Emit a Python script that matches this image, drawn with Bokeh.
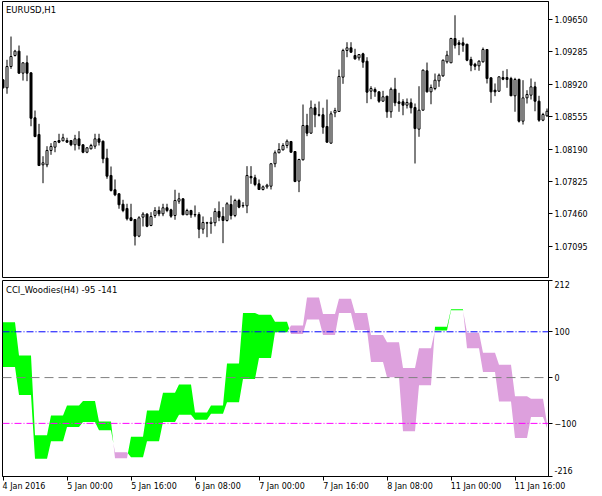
from bokeh.plotting import figure
from bokeh.models import (Range1d, FixedTicker, PrintfTickFormatter, Span, Label,
                          ColumnDataSource, LinearAxis)
from bokeh.layouts import column
from bokeh.embed import file_html
from bokeh.resources import INLINE

# ---------------- data (EURUSD H1, 4 Jan 2016 08:00 ... ) ----------------
bar_open = [1.08970, 1.08880, 1.09120, 1.09244, 1.09293, 1.09045, 1.09162, 1.09049, 1.08542, 1.08354,
            1.08012, 1.08012, 1.08174, 1.08211, 1.08286, 1.08283, 1.08286, 1.08286, 1.08238, 1.08305,
            1.08238, 1.08154, 1.08193, 1.08222, 1.08305, 1.08278, 1.08087, 1.07892, 1.07731, 1.07686,
            1.07568, 1.07520, 1.07415, 1.07396, 1.07208, 1.07422, 1.07456, 1.07328, 1.07441, 1.07497,
            1.07460, 1.07528, 1.07505, 1.07441, 1.07602, 1.07629, 1.07449, 1.07497, 1.07452, 1.07452,
            1.07287, 1.07359, 1.07351, 1.07359, 1.07486, 1.07430, 1.07385, 1.07565, 1.07441, 1.07610,
            1.07554, 1.07550, 1.07881, 1.07866, 1.07798, 1.07734, 1.07764, 1.07771, 1.08024, 1.08148,
            1.08181, 1.08230, 1.08275, 1.08162, 1.07828, 1.08069, 1.08455, 1.08369, 1.08655, 1.08576,
            1.08576, 1.08444, 1.08256, 1.08598, 1.08613, 1.09000, 1.09301, 1.09331, 1.09244, 1.09218,
            1.09263, 1.09180, 1.08842, 1.08861, 1.08835, 1.08729, 1.08786, 1.08610, 1.08864, 1.08722,
            1.08722, 1.08684, 1.08711, 1.08658, 1.08414, 1.08628, 1.09072, 1.08835, 1.08872, 1.08959,
            1.09015, 1.09173, 1.09162, 1.09436, 1.09387, 1.09387, 1.09372, 1.09199, 1.09146, 1.09128,
            1.09173, 1.09312, 1.08993, 1.08853, 1.08842, 1.08996, 1.08996, 1.08985, 1.08790, 1.08974,
            1.08504, 1.08767, 1.08797, 1.08891, 1.08729, 1.08515, 1.08565]
bar_high = [1.08979, 1.09196, 1.09458, 1.09308, 1.09357, 1.09165, 1.09244, 1.09053, 1.08624, 1.08474,
            1.08109, 1.08222, 1.08256, 1.08281, 1.08362, 1.08362, 1.08317, 1.08292, 1.08350, 1.08391,
            1.08241, 1.08211, 1.08249, 1.08362, 1.08362, 1.08286, 1.08193, 1.07993, 1.07847, 1.07689,
            1.07618, 1.07573, 1.07573, 1.07396, 1.07433, 1.07478, 1.07467, 1.07478, 1.07535, 1.07542,
            1.07573, 1.07573, 1.07517, 1.07731, 1.07697, 1.07633, 1.07517, 1.07505, 1.07554, 1.07478,
            1.07430, 1.07370, 1.07422, 1.07523, 1.07599, 1.07535, 1.07591, 1.07666, 1.07629, 1.07629,
            1.07591, 1.07997, 1.07997, 1.07900, 1.07847, 1.07779, 1.07798, 1.08033, 1.08174, 1.08256,
            1.08256, 1.08298, 1.08281, 1.08166, 1.08080, 1.08692, 1.08587, 1.08737, 1.08700, 1.08726,
            1.08655, 1.08748, 1.08616, 1.08655, 1.09086, 1.09320, 1.09394, 1.09394, 1.09320, 1.09259,
            1.09275, 1.09225, 1.08898, 1.08884, 1.08838, 1.08846, 1.08788, 1.08884, 1.08993, 1.08824,
            1.08752, 1.08760, 1.08760, 1.08703, 1.08898, 1.09086, 1.09165, 1.08917, 1.09041, 1.09041,
            1.09199, 1.09297, 1.09444, 1.09698, 1.09417, 1.09447, 1.09374, 1.09230, 1.09162, 1.09191,
            1.09334, 1.09315, 1.08996, 1.08929, 1.09008, 1.09072, 1.09090, 1.09004, 1.08993, 1.08985,
            1.08966, 1.08853, 1.08985, 1.08948, 1.08790, 1.08598, 1.08647]
bar_low = [1.08872, 1.08813, 1.09094, 1.09233, 1.09041, 1.08962, 1.08955, 1.08447, 1.08323, 1.07999,
           1.07805, 1.07985, 1.08125, 1.08154, 1.08256, 1.08278, 1.08264, 1.08222, 1.08174, 1.08185,
           1.08143, 1.08143, 1.08185, 1.08193, 1.08230, 1.08030, 1.07855, 1.07711, 1.07659, 1.07517,
           1.07478, 1.07385, 1.07377, 1.07103, 1.07196, 1.07317, 1.07309, 1.07320, 1.07415, 1.07433,
           1.07433, 1.07478, 1.07415, 1.07393, 1.07573, 1.07445, 1.07447, 1.07415, 1.07422, 1.07185,
           1.07235, 1.07196, 1.07235, 1.07320, 1.07377, 1.07129, 1.07373, 1.07396, 1.07422, 1.07523,
           1.07528, 1.07467, 1.07798, 1.07771, 1.07728, 1.07723, 1.07742, 1.07734, 1.07985, 1.08143,
           1.08174, 1.08199, 1.08151, 1.07816, 1.07704, 1.08061, 1.08335, 1.08362, 1.08436, 1.08557,
           1.08362, 1.08264, 1.08252, 1.08549, 1.08609, 1.08925, 1.09225, 1.09278, 1.09196, 1.09188,
           1.09106, 1.08707, 1.08752, 1.08779, 1.08711, 1.08726, 1.08542, 1.08542, 1.08673, 1.08610,
           1.08571, 1.08647, 1.08591, 1.08027, 1.08328, 1.08624, 1.08827, 1.08695, 1.08853, 1.08891,
           1.09004, 1.09154, 1.09160, 1.09323, 1.09248, 1.09286, 1.09180, 1.09067, 1.09079, 1.09072,
           1.09165, 1.08929, 1.08711, 1.08786, 1.08835, 1.08966, 1.08880, 1.08788, 1.08610, 1.08489,
           1.08466, 1.08703, 1.08748, 1.08616, 1.08497, 1.08504, 1.08553]
bar_close = [1.08880, 1.09120, 1.09233, 1.09293, 1.09045, 1.09162, 1.09045, 1.08537, 1.08331, 1.08004,
             1.08035, 1.08174, 1.08219, 1.08275, 1.08267, 1.08317, 1.08267, 1.08238, 1.08305, 1.08230,
             1.08154, 1.08204, 1.08230, 1.08305, 1.08267, 1.08080, 1.07884, 1.07723, 1.07674, 1.07562,
             1.07497, 1.07404, 1.07385, 1.07208, 1.07415, 1.07456, 1.07320, 1.07430, 1.07497, 1.07460,
             1.07528, 1.07497, 1.07433, 1.07610, 1.07629, 1.07449, 1.07497, 1.07449, 1.07447, 1.07287,
             1.07362, 1.07355, 1.07365, 1.07486, 1.07422, 1.07385, 1.07573, 1.07441, 1.07610, 1.07535,
             1.07550, 1.07892, 1.07866, 1.07790, 1.07734, 1.07764, 1.07782, 1.08024, 1.08148, 1.08185,
             1.08230, 1.08278, 1.08154, 1.07824, 1.08072, 1.08455, 1.08369, 1.08655, 1.08576, 1.08572,
             1.08436, 1.08267, 1.08587, 1.08624, 1.09008, 1.09301, 1.09331, 1.09281, 1.09207, 1.09255,
             1.09169, 1.08831, 1.08872, 1.08835, 1.08729, 1.08779, 1.08610, 1.08864, 1.08711, 1.08703,
             1.08684, 1.08715, 1.08655, 1.08421, 1.08628, 1.09079, 1.08835, 1.08884, 1.08966, 1.09022,
             1.09191, 1.09248, 1.09436, 1.09360, 1.09368, 1.09360, 1.09191, 1.09135, 1.09124, 1.09180,
             1.09312, 1.08985, 1.08835, 1.08835, 1.09004, 1.08977, 1.08974, 1.08790, 1.08974, 1.08504,
             1.08767, 1.08805, 1.08891, 1.08729, 1.08515, 1.08579, 1.08616]

# CCI Woodies (H4 values, one per 4 hourly bars)
cci_line = [121, 48, -126, -83, -61, -51, -96, -176, -129, -72, -33, -15, -76, -61, 31, 141, 137,
            122, 95, 127, 93, 141, 104, 34, 1, -117, -17, 111, 149, 64, 12, -52, -132, -86, -110]
tcci_line = [23, -38, -177, -139, -108, -97, -115, -163, -174, -139, -97, -81, -92, -79, -54, -3, 43,
             99, 114, 175, 139, 172, 141, 93, 77, 21, 64, 103, 147, 98, 54, 28, -41, -46, -100]

price_ticks = [1.07095, 1.07460, 1.07825, 1.08190, 1.08555, 1.08920, 1.09285, 1.09650]
cci_levels = [100, 0, -100]
time_ticks = [0, 16, 32, 48, 64, 80, 96, 112, 128]
time_labels = ["4 Jan 2016", "5 Jan 00:00", "5 Jan 16:00", "6 Jan 08:00", "7 Jan 00:00",
               "7 Jan 16:00", "8 Jan 08:00", "11 Jan 00:00", "11 Jan 16:00"]

FONT = "DejaVu Sans"
n = len(bar_open)
PXB = 4.0                      # pixels per hourly bar
x0, x1 = -0.125, -0.125 + 546 / PXB
pmin, pmax = 1.06742, 1.09853
cmin, cmax = -216, 212


def style_axis(ax, labels=True):
    ax.axis_line_color = "black"
    ax.major_tick_line_color = "black"
    ax.major_tick_out = 4
    ax.major_tick_in = 0
    ax.minor_tick_line_color = None
    ax.major_label_text_font = FONT
    if labels:
        ax.major_label_text_font_size = "8px"
        ax.major_label_text_color = "black"
        ax.major_label_standoff = 2
    else:
        ax.major_label_text_font_size = "1px"
        ax.major_label_text_color = None
        ax.major_label_standoff = 0


def text_w(s, size=8.0):
    tbl = {' ': 0.318, 'J': 0.295, 'a': 0.613, 'n': 0.634, ':': 0.337}
    return sum(tbl.get(ch, 0.636) for ch in s) * size


# ---------------- price panel ----------------
p1 = figure(width=600, height=279, x_range=Range1d(x0, x1), y_range=Range1d(pmin, pmax),
            output_backend="svg", toolbar_location=None, x_axis_location=None,
            y_axis_location="right", min_border_left=2, min_border_right=52,
            min_border_top=1, min_border_bottom=2)
p1.grid.visible = False
p1.outline_line_color = "black"
p1.background_fill_color = "white"
p1.border_fill_color = "white"
style_axis(p1.yaxis[0])
p1.yaxis.ticker = FixedTicker(ticks=price_ticks)
p1.yaxis.formatter = PrintfTickFormatter(format="%.5f")

idx = list(range(n))
src = ColumnDataSource(dict(
    x=idx, o=bar_open, h=bar_high, l=bar_low, c=bar_close,
    top=[max(a, b) for a, b in zip(bar_open, bar_close)],
    bot=[min(a, b) for a, b in zip(bar_open, bar_close)],
    fill=["white" if c >= o else "black" for o, c in zip(bar_open, bar_close)],
))
p1.segment(x0="x", y0="l", x1="x", y1="h", source=src, line_color="black", line_width=1)
p1.vbar(x="x", width=2 / PXB, top="top", bottom="bot", source=src,
        fill_color="fill", line_color="black", line_width=1)

ppx1 = (pmax - pmin) / 276.0
p1.add_layout(Label(x=x0 + 3.5 / PXB, y=pmax - 8.3 * ppx1, text="EURUSD,H1",
                    text_font=FONT, text_font_size="8.5px", text_color="black",
                    text_baseline="middle", text_align="left"))

# ---------------- CCI panel ----------------
p2 = figure(width=600, height=215, x_range=p1.x_range, y_range=Range1d(cmin, cmax),
            output_backend="svg", toolbar_location=None, y_axis_location="right",
            min_border_left=2, min_border_right=52, min_border_top=1, min_border_bottom=18)
p2.grid.visible = False
p2.outline_line_color = "black"
p2.background_fill_color = "white"
p2.border_fill_color = "white"

# right side: tick marks at the frame, labels on a second axis (ends nudged inside)
style_axis(p2.yaxis[0], labels=False)
p2.yaxis.ticker = FixedTicker(ticks=[cmin, -100, 0, 100, cmax])
upx = 196.0 / (cmax - cmin)
lab_top = int(round(cmax - 4 / upx))
lab_bot = int(round(cmin + 6 / upx))
ya2 = LinearAxis(ticker=FixedTicker(ticks=[lab_bot, -100, 0, 100, lab_top]),
                 major_label_overrides={lab_bot: str(cmin), lab_top: str(cmax)})
style_axis(ya2)
ya2.axis_line_color = None
ya2.major_tick_line_color = None
ya2.major_tick_out = 0
p2.add_layout(ya2, "right")

# bottom: tick marks on the main axis, left-aligned labels on a second axis
style_axis(p2.xaxis[0], labels=False)
p2.xaxis.ticker = FixedTicker(ticks=time_ticks)
lab_pos = [t + round(text_w(s) / 2) / PXB for t, s in zip(time_ticks, time_labels)]
xa2 = LinearAxis(ticker=FixedTicker(ticks=lab_pos),
                 major_label_overrides={pos: s for pos, s in zip(lab_pos, time_labels)})
style_axis(xa2)
xa2.axis_line_color = None
xa2.major_tick_line_color = None
xa2.major_tick_out = 0
xa2.major_label_standoff = 1
p2.add_layout(xa2, "below")

# per-bar values of the two CCI lines (H4 value repeated on its 4 H1 bars)
a = [cci_line[i // 4] for i in range(n)]
b = [tcci_line[i // 4] for i in range(n)]
pts = []
for i in range(n):
    pts.append((float(i), a[i], b[i], False))
    if i < n - 1:
        d0 = a[i] - b[i]
        d1 = a[i + 1] - b[i + 1]
        if d0 * d1 < 0:
            t = d0 / (d0 - d1)
            yc = a[i] + t * (a[i + 1] - a[i])
            pts.append((i + t, yc, yc, True))
runs = []
cur = [pts[0]]
for pt in pts[1:]:
    cur.append(pt)
    if pt[3]:
        runs.append(cur)
        cur = [pt]
runs.append(cur)
xs, ys, cols = [], [], []
for r in runs:
    sgn = 0
    for pt in r:
        if pt[1] != pt[2]:
            sgn = 1 if pt[1] > pt[2] else -1
            break
    upper = [max(pt[1], pt[2]) for pt in r]
    lower = [min(pt[1], pt[2]) for pt in r]
    rx = [pt[0] for pt in r]
    xs.append(rx + rx[::-1])
    ys.append(upper + lower[::-1])
    cols.append("#00FF00" if sgn >= 0 else "#DDA0DD")
p2.patches(xs="xs", ys="ys", fill_color="color", line_color=None,
           source=ColumnDataSource(dict(xs=xs, ys=ys, color=cols)))

p2.add_layout(Span(location=cci_levels[0], dimension="width", line_color="#0000FF",
                   line_width=1, line_dash="7 2 1 2"))
p2.add_layout(Span(location=cci_levels[1], dimension="width", line_color="#808080",
                   line_width=1, line_dash="9 5"))
p2.add_layout(Span(location=cci_levels[2], dimension="width", line_color="#FF00FF",
                   line_width=1, line_dash="7 2 1 2"))

p2.add_layout(Label(x=x0 + 3.5 / PXB, y=cmax - 9 / upx, text="CCI_Woodies(H4) -95 -141",
                    text_font=FONT, text_font_size="8.5px", text_color="black",
                    text_baseline="middle", text_align="left"))

layout = column(p1, p2, spacing=0)
open("out.html", "w").write(file_html(layout, INLINE))
